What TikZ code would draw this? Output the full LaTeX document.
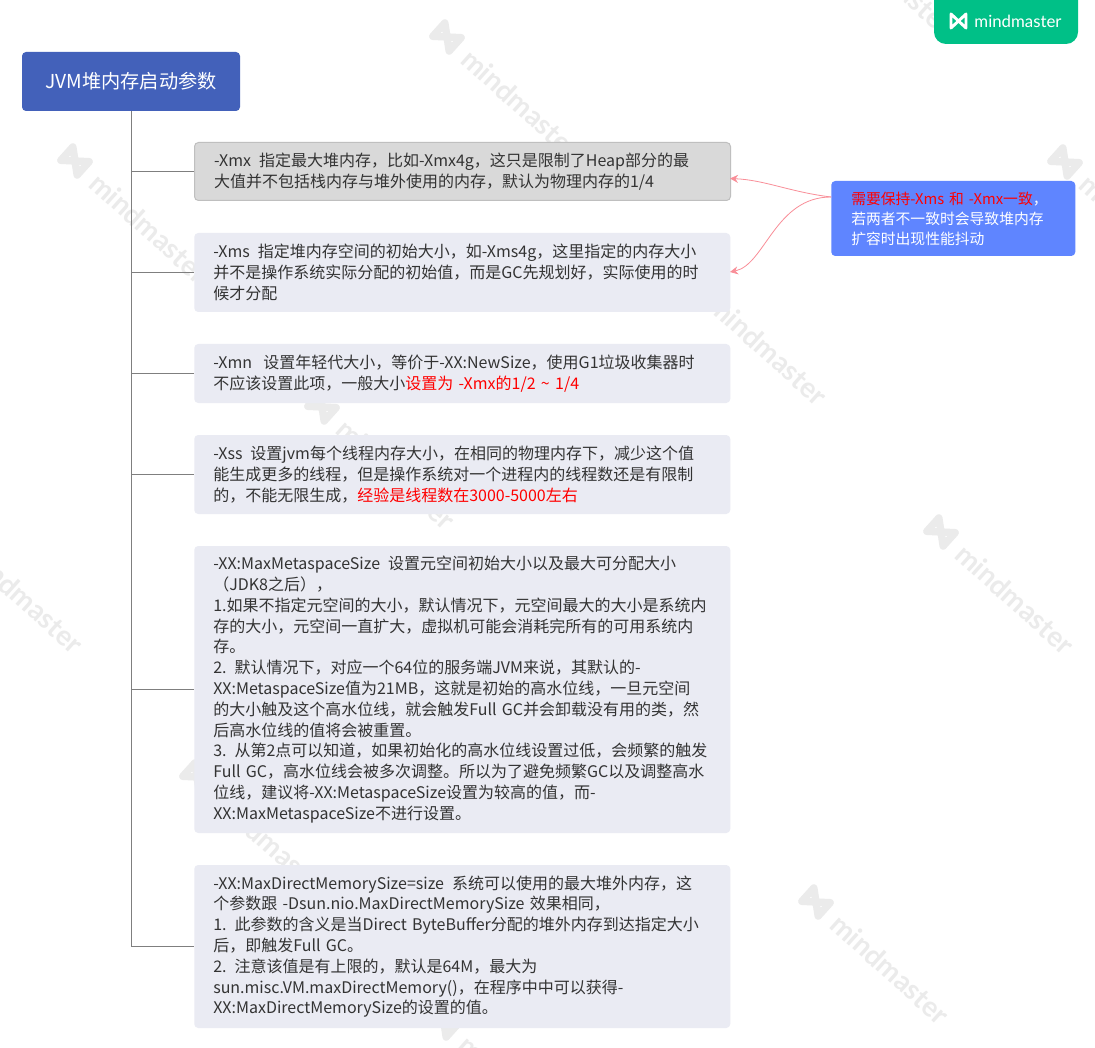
\documentclass[tikz,border=0pt]{standalone}
\usepackage{fontspec}
\setmainfont{Noto Sans CJK SC}
\newfontfamily\logofont{Lato}
\usetikzlibrary{arrows.meta}

\definecolor{rootblue}{HTML}{4361BA}
\definecolor{boxgrey}{HTML}{D9D9D9}
\definecolor{boxedge}{HTML}{BFBFBF}
\definecolor{boxlight}{HTML}{EAEBF3}
\definecolor{noteblue}{HTML}{5F85FF}
\definecolor{linkpink}{HTML}{F98E98}
\definecolor{treegrey}{HTML}{7F7F7F}
\definecolor{logogreen}{HTML}{00C087}
\definecolor{wmgrey}{HTML}{EBEBEB}
\definecolor{inktext}{HTML}{333333}

\tikzset{
	param/.style={anchor=west, fill=boxlight, rounded corners=3pt, minimum width=402pt, text width=373.5pt, inner xsep=14.25pt, inner ysep=0pt, align=left, text=inktext, font=\fontsize{12pt}{15.6pt}\selectfont},
	branch/.style={draw=treegrey, line width=0.75pt},
	link/.style={draw=linkpink, line width=0.6pt, -{Stealth[length=6pt,width=6pt]}},
	wmicon/.style={draw=wmgrey, line width=5.5pt, line join=round},
	wmtext/.style={text=wmgrey, transform shape, inner sep=0pt, font=\logofont\bfseries\fontsize{21pt}{21pt}\selectfont}
}

\begin{document}
\begin{tikzpicture}[x=0.75pt, y=-0.75pt]
	\useasboundingbox (0,0) rectangle (1095,1048);
	\fill[white] (0,0) rectangle (1095,1048);

	% Watermarks
	\foreach \wx/\wy [count=\wi] in {447/37, 322/407, 197/777, 694/283, 444/1023, 941/532, 816/902, 1065/162, 820/-87, 75/161, -50/531}{
		\begin{scope}[shift={(\wx,\wy)}, rotate=-42]
			\draw[wmicon] (-11,-9) -- (11,9) -- (11,-9) -- (-11,9) -- cycle;
			\node[wmtext] (wm\wi) at (100,0) {mindmaster};
		\end{scope}
	}

	% Logo
	\node[fill=logogreen, rounded corners=9pt, minimum width=108pt, minimum height=48pt, inner sep=0pt] (logo) at (1006,12) {};
	\draw[draw=white, line width=2.2pt, line join=round] (951,14) -- (966,28) -- (966,14) -- (951,28) -- cycle;
	\node[text=white, inner sep=0pt, font=\logofont\fontsize{12.6pt}{14pt}\selectfont] (logoname) at (1018,21) {mindmaster};

	% Nodes - root
	\node[fill=rootblue, rounded corners=3pt, minimum width=163.5pt, minimum height=44.25pt, inner sep=0pt, text=white, font=\fontsize{14.4pt}{16pt}\selectfont] (root) at (131,81.5) {JVM堆内存启动参数};

	% Nodes - parameters
	\node[param, fill=boxgrey, draw=boxedge, line width=0.75pt, text width=372.75pt, minimum width=402pt, minimum height=43.5pt] (xmx) at (194,171.5) {-Xmx\hspace{0.5em}指定最大堆内存，比如-Xmx4g，这只是限制了Heap部分的最\\大值并不包括栈内存与堆外使用的内存，默认为物理内存的1/4};
	\node[param, minimum height=59.25pt] (xms) at (194,272.5) {-Xms\hspace{0.5em}指定堆内存空间的初始大小，如-Xms4g，这里指定的内存大小\\并不是操作系统实际分配的初始值，而是GC先规划好，实际使用的时\\候才分配};
	\node[param, minimum height=44.25pt] (xmn) at (194,373.5) {-Xmn\hspace{0.7em}设置年轻代大小，等价于-XX:NewSize，使用G1垃圾收集器时\\不应该设置此项，一般大小\textcolor{red}{设置为 -Xmx的1/2 \textasciitilde{} 1/4}};
	\node[param, minimum height=59.25pt] (xss) at (194,474.5) {-Xss\hspace{0.5em}设置jvm每个线程内存大小，在相同的物理内存下，减少这个值\\能生成更多的线程，但是操作系统对一个进程内的线程数还是有限制\\的，不能无限生成，\textcolor{red}{经验是线程数在3000-5000左右}};
	\node[param, minimum height=215.25pt] (meta) at (194,689.5) {-XX:MaxMetaspaceSize\hspace{0.5em}设置元空间初始大小以及最大可分配大小\\（JDK8之后），\\1.如果不指定元空间的大小，默认情况下，元空间最大的大小是系统内\\存的大小，元空间一直扩大，虚拟机可能会消耗完所有的可用系统内\\存。\\2. 默认情况下，对应一个64位的服务端JVM来说，其默认的-\\XX:MetaspaceSize值为21MB，这就是初始的高水位线，一旦元空间\\的大小触及这个高水位线，就会触发Full GC并会卸载没有用的类，然\\后高水位线的值将会被重置。\\3. 从第2点可以知道，如果初始化的高水位线设置过低，会频繁的触发\\Full GC，高水位线会被多次调整。所以为了避免频繁GC以及调整高水\\位线，建议将-XX:MetaspaceSize设置为较高的值，而-\\XX:MaxMetaspaceSize不进行设置。};
	\node[param, minimum height=122.25pt] (direct) at (194,946.5) {-XX:MaxDirectMemorySize=size\hspace{0.5em}系统可以使用的最大堆外内存，这\\个参数跟 -Dsun.nio.MaxDirectMemorySize 效果相同，\\1. 此参数的含义是当Direct ByteBuffer分配的堆外内存到达指定大小\\后，即触发Full GC。\\2. 注意该值是有上限的，默认是64M，最大为\\sun.misc.VM.maxDirectMemory()，在程序中中可以获得-\\XX:MaxDirectMemorySize的设置的值。};

	% Nodes - note
	\node[anchor=west, fill=noteblue, rounded corners=3pt, minimum width=183pt, minimum height=56.25pt, text width=153pt, inner xsep=15pt, inner ysep=0pt, align=left, text=white, font=\fontsize{11.1pt}{15pt}\selectfont] (note) at (831,218.5) {\textcolor{red}{需要保持-Xms 和 -Xmx一致}，\\若两者不一致时会导致堆内存\\扩容时出现性能抖动};

	\coordinate (notestart) at (831,197);
	\coordinate (xmxend) at (730,178.5);
	\coordinate (xmsend) at (730,272);

	% Edges
	\draw[branch] (root.south) -- (root.south |- direct.west);
	\foreach \bn in {xmx, xms, xmn, xss, meta, direct}{
		\draw[branch] (root.south |- \bn.west) -- (\bn.west);
	}
	\draw[link] (notestart) .. controls (790,192) and (765,180) .. (xmxend);
	\draw[link] (notestart) .. controls (775,197) and (765,265) .. (xmsend);
\end{tikzpicture}
\end{document}
